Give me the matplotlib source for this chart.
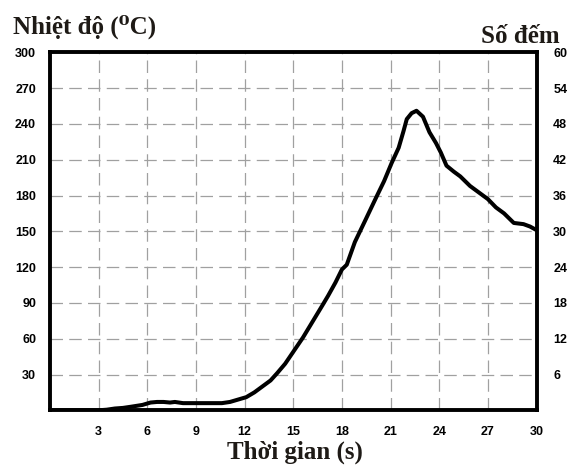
import matplotlib
matplotlib.use("Agg")
import matplotlib.pyplot as plt

# ── data ───────────────────────────────────────
time_s = [0, 1, 2, 3, 3.5, 4, 4.5, 5, 5.7, 6.2, 6.6, 7.0, 7.4, 7.7, 8.2, 9,
          10, 10.6, 11.1, 11.6, 12.1, 12.6, 13.2, 13.6, 14.0, 14.5, 15.0, 15.6,
          16.0, 16.4, 16.8, 17.15, 17.6, 18.0, 18.3, 18.8, 19.4, 20.1, 20.6,
          21.06, 21.5, 21.8, 22.0, 22.3, 22.6, 23.0, 23.4, 23.8, 24.1, 24.45,
          24.9, 25.3, 25.9, 26.5, 27.0, 27.5, 28.0, 28.6, 29.2, 29.6, 30.0]
temp_c = [0, 0, 0, 0, 0.5, 1.5, 2, 3, 4.5, 6.5, 7, 7, 6.5, 7, 6, 6,
          6, 6, 7, 9, 11, 15, 21, 25, 31, 39, 49, 61,
          70, 79, 88, 96, 107, 118, 122, 141, 158, 178, 192,
          207, 220, 234, 244, 249, 251, 246, 233, 224, 216, 205,
          200, 196, 188, 182, 177, 170, 165, 157, 156, 154, 151]

x_ticks = [3, 6, 9, 12, 15, 18, 21, 24, 27, 30]
temp_ticks = [30, 60, 90, 120, 150, 180, 210, 240, 270, 300]
count_ticks = [6, 12, 18, 24, 30, 36, 42, 48, 54, 60]

label_font = dict(family=["Liberation Serif", "DejaVu Serif"],
                  fontsize=18, fontweight="bold", color="#1e1a16")
tick_font = ["Liberation Sans", "DejaVu Sans"]

fig = plt.figure(figsize=(5.71, 4.66), dpi=100)
ax = fig.add_axes([50 / 571, 1 - 410.3 / 466, 486.5 / 571, 358 / 466])

ax.plot(time_s, temp_c, color="black", lw=2.9, solid_joinstyle="round",
        solid_capstyle="round", zorder=3)

ax.set_xlim(0, 30)
ax.set_ylim(0, 300)
ax.set_xticks(x_ticks)
ax.set_yticks(temp_ticks)

# dashed grey grid, skipping the lines that sit on the frame
for xv in x_ticks[:-1]:
    ax.axvline(xv, color="#a0a0a0", lw=0.9, dashes=(10, 5), zorder=1)
for yv in temp_ticks[:-1]:
    ax.axhline(yv, color="#a0a0a0", lw=0.9, dashes=(10, 5), zorder=1)

ax.tick_params(axis="both", length=0, labelsize=9)
ax.tick_params(axis="y", pad=10)
ax.tick_params(axis="x", pad=11)
for lab in ax.get_xticklabels() + ax.get_yticklabels():
    lab.set_fontweight("bold")
    lab.set_family(tick_font)

for sp in ax.spines.values():
    sp.set_linewidth(2.8)
    sp.set_zorder(4)

# right axis: counts
ax2 = ax.twinx()
ax2.set_ylim(0, 60)
ax2.set_yticks(count_ticks)
ax2.tick_params(axis="y", length=0, labelsize=9, pad=12)
for lab in ax2.get_yticklabels():
    lab.set_fontweight("bold")
    lab.set_family(tick_font)
for sp in ax2.spines.values():
    sp.set_visible(False)

fig.text(12.7 / 571, 1 - 33.3 / 466, "Nhiệt độ (⁰C)", ha="left",
         va="baseline", **label_font)
fig.text(560 / 571, 1 - 43.3 / 466, "Số đếm", ha="right",
         va="baseline", **label_font)
fig.text(295 / 571, 1 - 459 / 466, "Thời gian (s)", ha="center",
         va="baseline", **label_font)

fig.savefig("out.png", dpi=100)
